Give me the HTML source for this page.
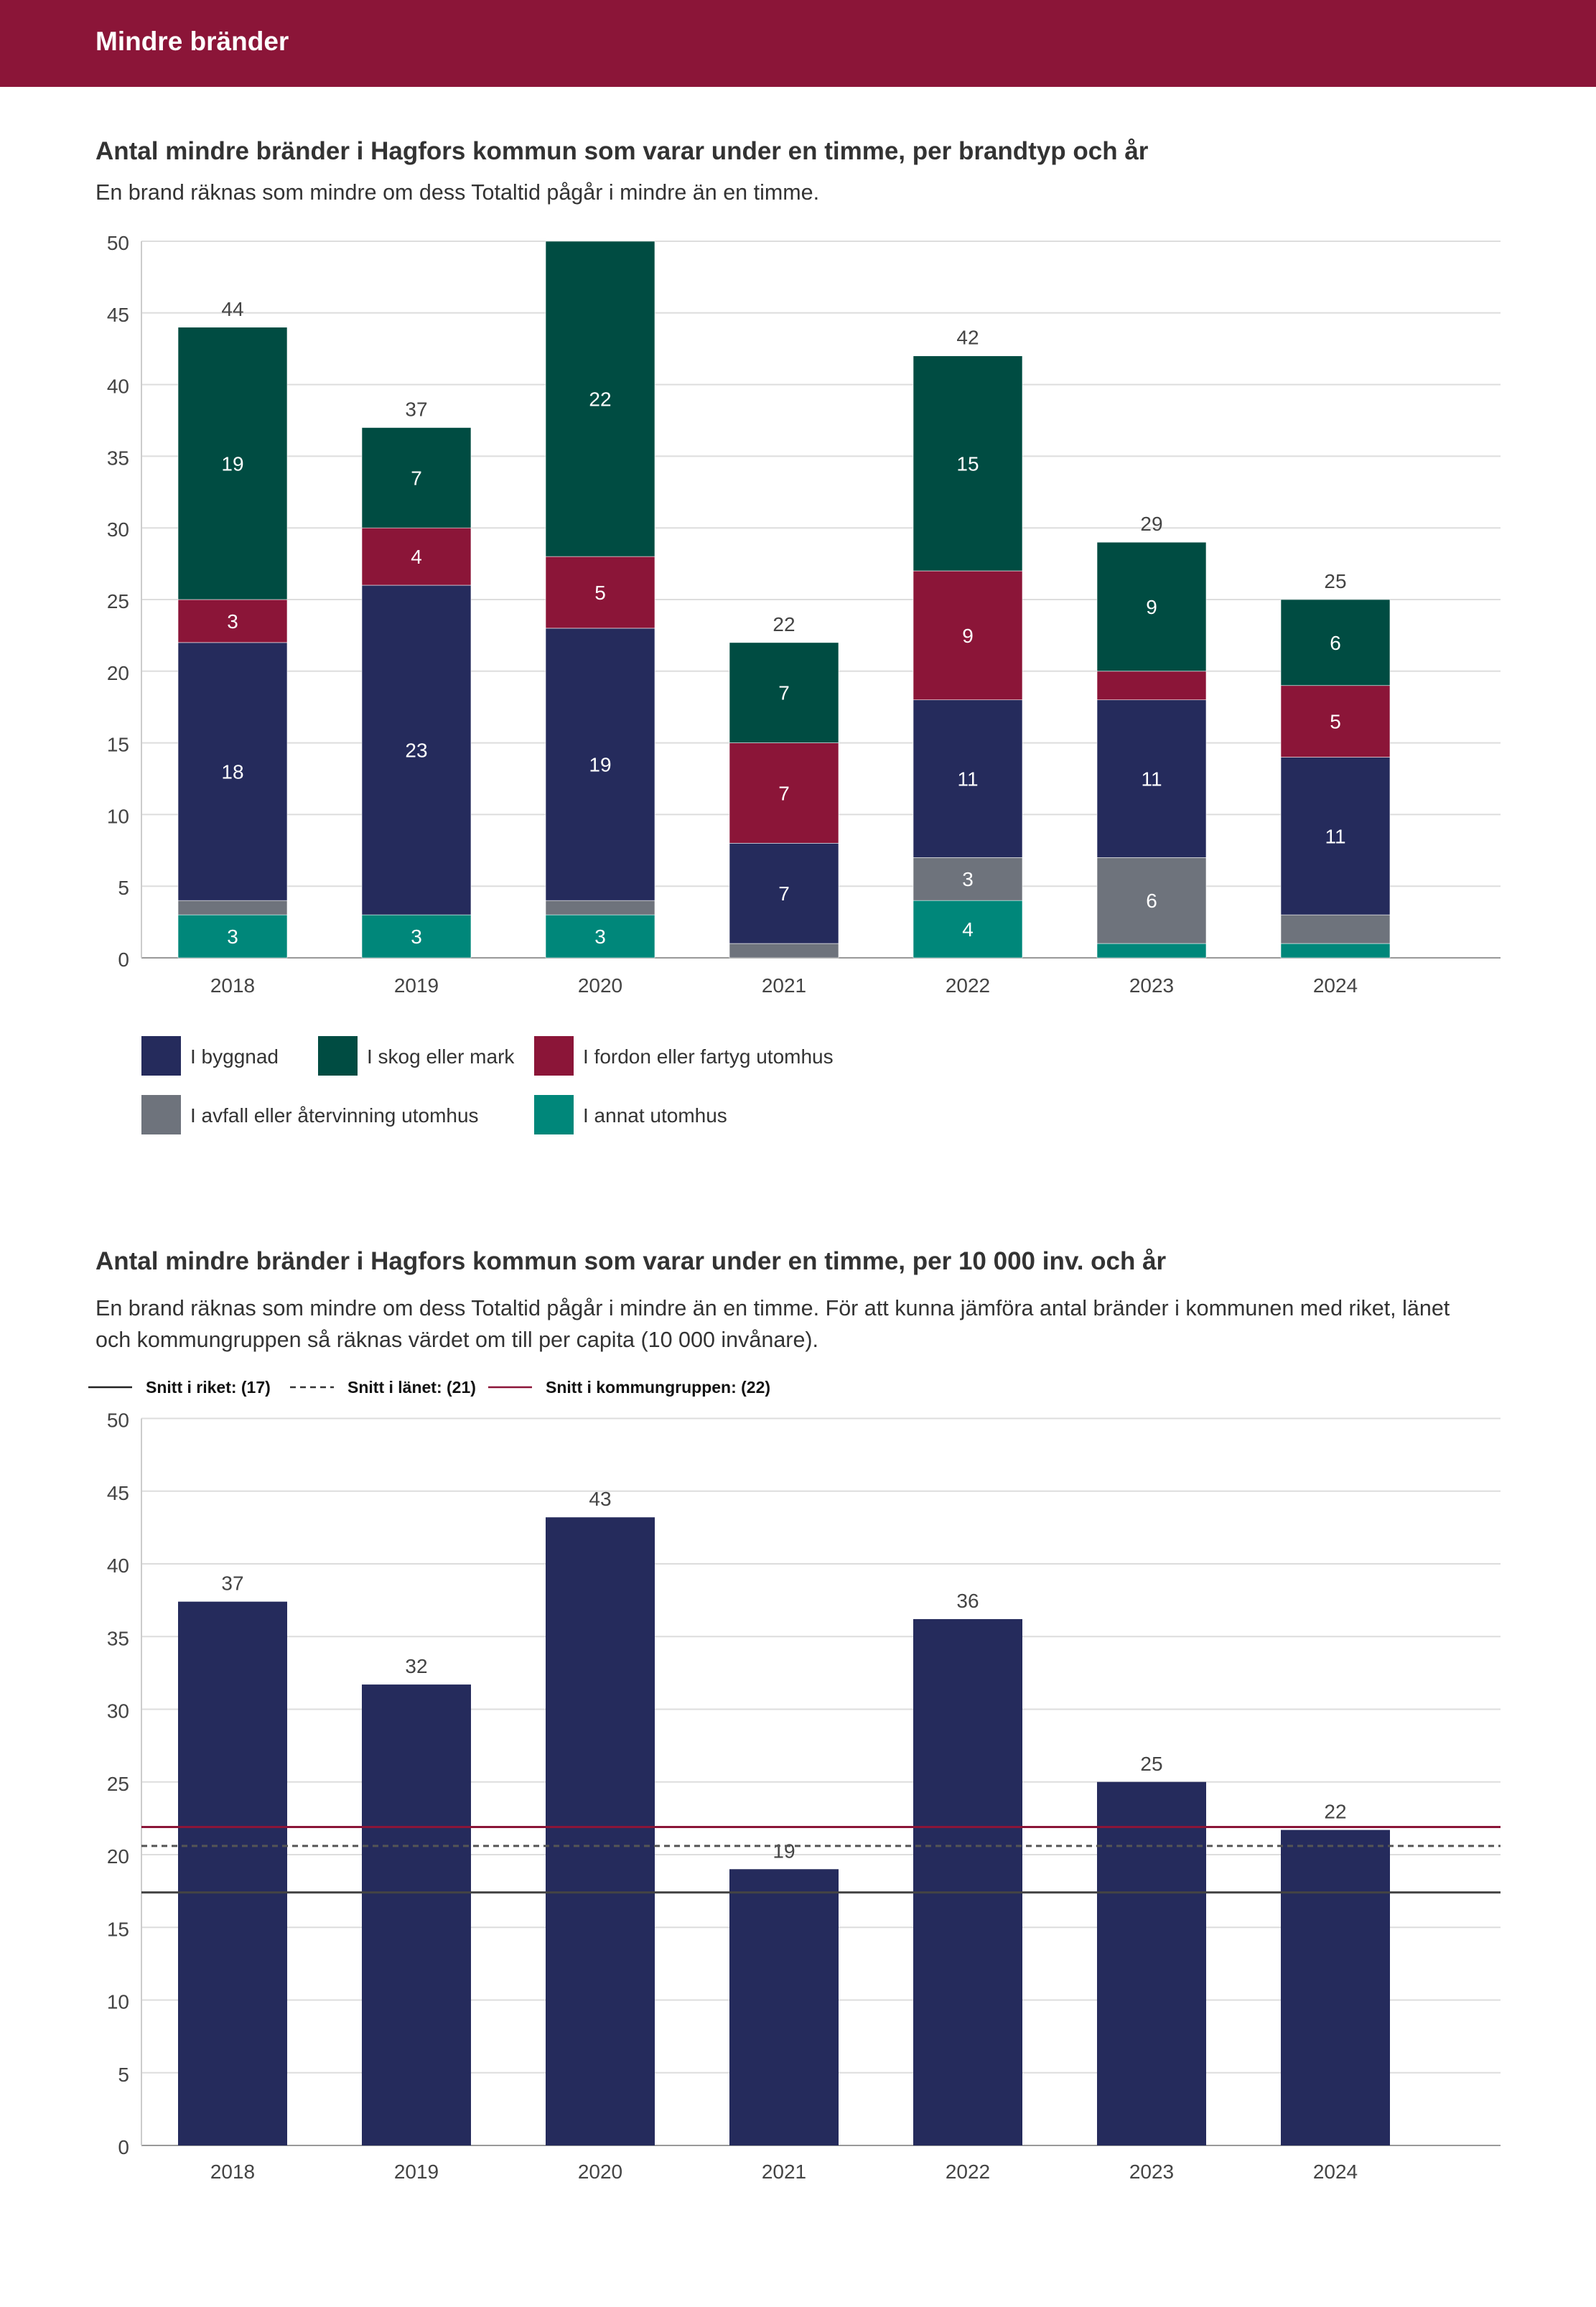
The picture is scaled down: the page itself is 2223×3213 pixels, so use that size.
<!DOCTYPE html>
<html><head><meta charset="utf-8">
<style>
html,body{margin:0;padding:0;background:#fff;}
svg{display:block;font-family:"Liberation Sans",sans-serif;}
</style></head>
<body>
<svg id="page" xmlns="http://www.w3.org/2000/svg" width="2223" height="3213" viewBox="0 0 2223 3213">
<rect x="0" y="0" width="2223" height="121" fill="#8b1538"/>
<text x="133" y="70" fill="#fff" font-size="37" font-weight="bold">Mindre bränder</text>
<text x="133" y="222" fill="#333" font-size="35" font-weight="bold">Antal mindre bränder i Hagfors kommun som varar under en timme, per brandtyp och år</text>
<text x="133" y="278" fill="#333" font-size="30.5">En brand räknas som mindre om dess Totaltid pågår i mindre än en timme.</text>
<g id="c1"></g>
<g id="leg1"></g>
<text x="133" y="1768" fill="#333" font-size="35" font-weight="bold">Antal mindre bränder i Hagfors kommun som varar under en timme, per 10 000 inv. och år</text>
<text x="133" y="1832" fill="#333" font-size="30.5">En brand räknas som mindre om dess Totaltid pågår i mindre än en timme. För att kunna jämföra antal bränder i kommunen med riket, länet</text>
<text x="133" y="1876" fill="#333" font-size="30.5">och kommungruppen så räknas värdet om till per capita (10 000 invånare).</text>
<g id="leg2"></g>
<g id="c2"></g>
</svg>
<script>
const years = ["2018","2019","2020","2021","2022","2023","2024"];
const annat = [3,3,3,0,4,1,1];
const avfall = [1,0,1,1,3,6,2];
const byggnad = [18,23,19,7,11,11,11];
const fordon = [3,4,5,7,9,2,5];
const skog = [19,7,22,7,15,9,6];
const yTicks = [0,5,10,15,20,25,30,35,40,45,50];
const perCapita = [37.4,31.7,43.2,19.0,36.2,25.0,21.7];
const perCapitaLabels = ["37","32","43","19","36","25","22"];
const avgRiket = 17.4;
const avgLan = 20.6;
const avgGrupp = 21.9;

const NS="http://www.w3.org/2000/svg";
function mk(parent,tag,attrs,text){const e=document.createElementNS(NS,tag);for(const k in attrs)e.setAttribute(k,attrs[k]);if(text!==undefined)e.textContent=text;parent.appendChild(e);return e;}
const L=197,R=2090,band=256,bw=152;
function xC(i){return L+band*(i+0.5)-1;}

function axes(g,yFn,xLabY,prefix){
  yTicks.forEach(t=>{
    const y=yFn(t);
    const gl=mk(g,'line',{x1:L,x2:R,y1:y,y2:y,stroke:t===0?'#999':'#ddd','stroke-width':2});
    
    
    const tl=mk(g,'text',{x:180,y:y+12,'text-anchor':'end','font-size':28,fill:'#444'},String(t));
    
    
  });
  const ax=mk(g,'line',{x1:L,x2:L,y1:yFn(50),y2:yFn(0),stroke:'#ccc','stroke-width':2});
  
  
  years.forEach((yr,i)=>{
    const t=mk(g,'text',{x:xC(i),y:xLabY,'text-anchor':'middle','font-size':28,fill:'#444'},yr);
    
    
  });
}

// chart 1
const c1=document.getElementById('c1');
const y1=v=>1334-v*19.96;
axes(c1,y1,1382,'chart1');
const series=[
 {name:'annat',vals:annat,color:'#00877a'},
 {name:'avfall',vals:avfall,color:'#6e737c'},
 {name:'byggnad',vals:byggnad,color:'#252b5c'},
 {name:'fordon',vals:fordon,color:'#8b1538'},
 {name:'skog',vals:skog,color:'#004c42'}];
years.forEach((yr,i)=>{
  let cum=0;
  series.forEach(s=>{
    const v=s.vals[i];
    if(v>0){
      const top=y1(cum+v),bot=y1(cum);
      const r=mk(c1,'rect',{x:xC(i)-bw/2,y:top,width:bw,height:bot-top,fill:s.color,stroke:'#fff','stroke-width':0.6});
      
      
      if(v>=3){
        const t=mk(c1,'text',{x:xC(i),y:(top+bot)/2+10,'text-anchor':'middle','font-size':28,fill:'#fff'},String(v));
        
        
      }
    }
    cum+=v;
  });
  if(cum<50){
    const t=mk(c1,'text',{x:xC(i),y:y1(cum)-16,'text-anchor':'middle','font-size':28,fill:'#444'},String(cum));
    
    
  }
});
const leg1=document.getElementById('leg1');
[[197,1443,'#252b5c','I byggnad'],[443,1443,'#004c42','I skog eller mark'],[744,1443,'#8b1538','I fordon eller fartyg utomhus'],[197,1525,'#6e737c','I avfall eller återvinning utomhus'],[744,1525,'#00877a','I annat utomhus']].forEach(e=>{
  const r=mk(leg1,'rect',{x:e[0],y:e[1],width:55,height:55,fill:e[2]});
  
  
  const t=mk(leg1,'text',{x:e[0]+68,y:e[1]+38,'font-size':28,fill:'#333'},e[3]);
  
  
});

// chart 2
const leg2=document.getElementById('leg2');
[[123,'#222',null,'Snitt i riket: (17)'],[404,'#333','8 6','Snitt i länet: (21)'],[680,'#8b1538',null,'Snitt i kommungruppen: (22)']].forEach(e=>{
  const a={x1:e[0],x2:e[0]+61,y1:1932,y2:1932,stroke:e[1],'stroke-width':2.5};
  if(e[2])a['stroke-dasharray']=e[2];
  const l=mk(leg2,'line',a);
  
  
  const t=mk(leg2,'text',{x:e[0]+80,y:1940,'font-size':23,'font-weight':'bold',fill:'#111'},e[3]);
  
  
});
const c2=document.getElementById('c2');
const y2=v=>2988-v*20.25;
axes(c2,y2,3034,'chart2');
years.forEach((yr,i)=>{
  const top=y2(perCapita[i]);
  const r=mk(c2,'rect',{x:xC(i)-bw/2,y:top,width:bw,height:y2(0)-top,fill:'#252b5c'});
  
  
  const t=mk(c2,'text',{x:xC(i),y:top-16,'text-anchor':'middle','font-size':28,fill:'#444'},perCapitaLabels[i]);
  
  
});
[[avgRiket,'#444',null,'avg-line-riket'],[avgLan,'#555','8 6','avg-line-lanet'],[avgGrupp,'#8b1538',null,'avg-line-kommungrupp']].forEach(e=>{
  const a={x1:L,x2:R,y1:y2(e[0]),y2:y2(e[0]),stroke:e[1],'stroke-width':3};
  if(e[2])a['stroke-dasharray']=e[2];
  const l=mk(c2,'line',a);
  
  
});
</script>
</body></html>
